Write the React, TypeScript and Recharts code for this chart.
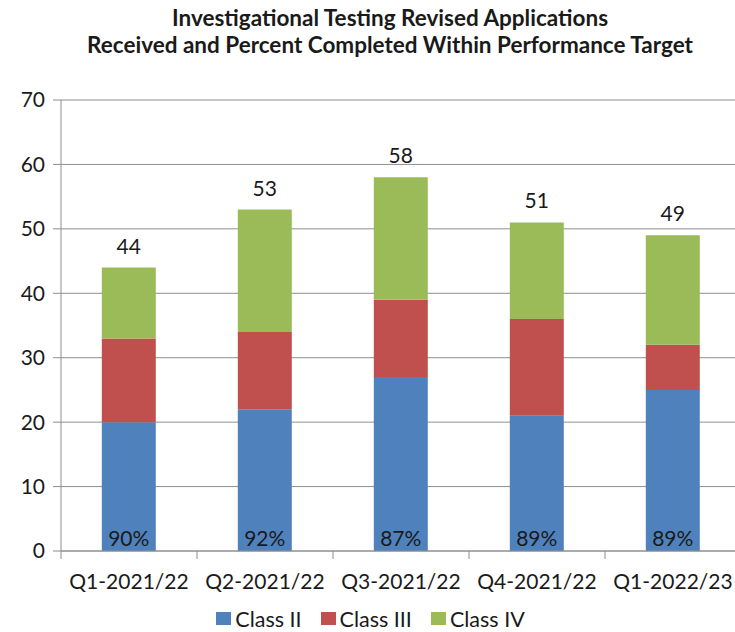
import { BarChart, Bar, XAxis, YAxis, CartesianGrid, Legend, LabelList } from 'recharts';

// values
const quarters = ['Q1-2021/22', 'Q2-2021/22', 'Q3-2021/22', 'Q4-2021/22', 'Q1-2022/23'];
const classII = [20, 22, 27, 21, 25];
const classIII = [13, 12, 12, 15, 7];
const classIV = [11, 19, 19, 15, 17];
const totals = [44, 53, 58, 51, 49];
const pctWithinTarget = ['90%', '92%', '87%', '89%', '89%'];
const yTicks = [0, 10, 20, 30, 40, 50, 60, 70];

const series = [
  { key: 'classII', name: 'Class II', color: '#4F81BD' },
  { key: 'classIII', name: 'Class III', color: '#C0504D' },
  { key: 'classIV', name: 'Class IV', color: '#9BBB59' },
];

const data = quarters.map((quarter, i) => ({
  quarter,
  classII: classII[i],
  classIII: classIII[i],
  classIV: classIV[i],
  total: totals[i],
  pct: pctWithinTarget[i],
}));

const FONT = 'Lato, "Open Sans", sans-serif';
const TEXT = '#1a1a1a';
const GRID = '#8e8e8e';

function QuarterTick(props: any) {
  const { x, y, payload, width, visibleTicksCount } = props;
  const half = payload.offset ?? width / visibleTicksCount / 2;
  return (
    <g>
      <line x1={x - half} x2={x - half} y1={y - 8} y2={y} stroke={GRID} />
      <text x={x} y={y + 30} textAnchor="middle" fill={TEXT} fontSize={21} fontFamily={FONT}>
        {payload.value}
      </text>
    </g>
  );
}

function TotalLabel(props: any) {
  const { x, y, width, value } = props;
  return (
    <text x={x + width / 2} y={y - 14} textAnchor="middle" fill={TEXT} fontSize={21} fontFamily={FONT}>
      {value}
    </text>
  );
}

function PctLabel(props: any) {
  const { x, y, width, height, value } = props;
  return (
    <text x={x + width / 2} y={y + height - 5} textAnchor="middle" fill={TEXT} fontSize={21} fontFamily={FONT}>
      {value}
    </text>
  );
}

function LegendBox() {
  return (
    <div
      style={{
        display: 'flex',
        justifyContent: 'center',
        alignItems: 'center',
        height: 31,
        paddingTop: 4,
        boxSizing: 'border-box',
        fontFamily: FONT,
        fontSize: 21.5,
        lineHeight: '22px',
        color: TEXT,
      }}
    >
      {series.map((s, i) => (
        <div key={s.key} style={{ display: 'flex', alignItems: 'center', marginRight: i < series.length - 1 ? 19 : 0 }}>
          <span style={{ width: 15, height: 13, background: s.color, marginRight: 4, display: 'inline-block' }} />
          <span>{s.name}</span>
        </div>
      ))}
    </div>
  );
}

export default function App() {
  return (
    <div style={{ position: 'absolute', top: 0, left: 0, width: 735, height: 632, overflow: 'hidden', background: '#fff' }}>
      <BarChart
        width={745}
        height={632}
        data={data}
        margin={{ top: 100, right: 4, bottom: 0, left: 0 }}
        barCategoryGap="30%"
      >
        <CartesianGrid vertical={false} stroke={GRID} />
        <XAxis
          dataKey="quarter"
          height={50}
          interval={0}
          tickSize={8}
          tickMargin={0}
          tickLine={false}
          axisLine={{ stroke: GRID }}
          tick={<QuarterTick />}
        />
        <YAxis
          width={61}
          domain={[0, 70]}
          ticks={yTicks}
          interval={0}
          tickSize={8}
          tickMargin={8}
          axisLine={{ stroke: GRID }}
          tickLine={{ stroke: GRID }}
          tick={{ fill: TEXT, fontSize: 21, fontFamily: FONT }}
        />
        <Legend verticalAlign="bottom" height={31} content={<LegendBox />} />
        <Bar dataKey="classII" name="Class II" stackId="a" fill={series[0].color} isAnimationActive={false}>
          <LabelList dataKey="pct" content={<PctLabel />} />
        </Bar>
        <Bar dataKey="classIII" name="Class III" stackId="a" fill={series[1].color} isAnimationActive={false} />
        <Bar dataKey="classIV" name="Class IV" stackId="a" fill={series[2].color} isAnimationActive={false}>
          <LabelList dataKey="total" content={<TotalLabel />} />
        </Bar>
      </BarChart>
      <svg
        width={735}
        height={70}
        style={{ position: 'absolute', top: 0, left: 0, pointerEvents: 'none' }}
      >
        <text x={390} y={26} textAnchor="middle" fontFamily={FONT} fontWeight="bold" fontSize={22.5} fill={TEXT}>
          Investigational Testing Revised Applications
        </text>
        <text x={390} y={53} textAnchor="middle" fontFamily={FONT} fontWeight="bold" fontSize={22.5} fill={TEXT}>
          Received and Percent Completed Within Performance Target
        </text>
      </svg>
    </div>
  );
}
